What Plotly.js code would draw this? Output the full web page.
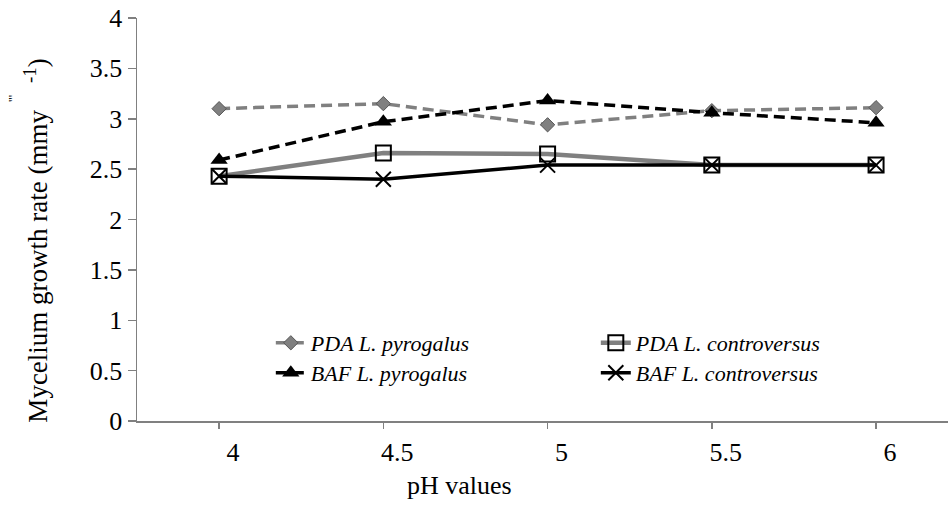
<!DOCTYPE html>
<html>
<head>
<meta charset="utf-8">
<script src="https://cdn.plot.ly/plotly-3.0.1.min.js"></script>
<style>html,body{margin:0;padding:0;background:#fff;}#chart{width:948px;height:518px;}</style>
</head>
<body>
<div id="chart"></div>
<script>
const phValues = [4, 4.5, 5, 5.5, 6];
const tickLabels = ['4', '4.5', '5', '5.5', '6'];
const seriesNames = ['PDA L. pyrogalus', 'PDA L. controversus', 'BAF L. pyrogalus', 'BAF L. controversus'];
const pdaPyrogalus = [3.10, 3.15, 2.94, 3.08, 3.11];
const pdaControversus = [2.43, 2.66, 2.65, 2.54, 2.54];
const bafPyrogalus = [2.59, 2.97, 3.18, 3.06, 2.96];
const bafControversus = [2.43, 2.40, 2.54, 2.54, 2.54];

const gray = '#808080';
const serif = 'Liberation Serif';

const traces = [
  {x: phValues, y: pdaPyrogalus, name: seriesNames[0], mode: 'lines+markers', legend: 'legend',
   line: {color: gray, width: 3.5, dash: '11px,6px'},
   marker: {symbol: 'diamond', size: 11, color: gray, line: {color: '#555', width: 1}}},
  {x: phValues, y: pdaControversus, name: seriesNames[1], mode: 'lines+markers', legend: 'legend',
   line: {color: gray, width: 4.5},
   marker: {symbol: 'square-open', size: 15, color: '#000', line: {color: '#000', width: 2}}},
  {x: phValues, y: bafPyrogalus, name: seriesNames[2], mode: 'lines+markers', legend: 'legend2',
   line: {color: '#000', width: 3.5, dash: '11px,6px'},
   marker: {symbol: 'triangle-up', size: 15, color: '#000'}},
  {x: phValues, y: bafControversus, name: seriesNames[3], mode: 'lines+markers', legend: 'legend2',
   line: {color: '#000', width: 3.5},
   marker: {symbol: 'x-thin-open', size: 15, color: '#000', line: {color: '#000', width: 2}}}
];

const legendBase = {
  orientation: 'h', xanchor: 'left', yanchor: 'middle',
  entrywidth: 280, entrywidthmode: 'pixels', traceorder: 'normal',
  bgcolor: 'rgba(0,0,0,0)', borderwidth: 0,
  font: {family: serif, size: 22, style: 'italic', color: '#000'}
};

const nb = '\u00a0';

const layout = {
  width: 948, height: 518,
  margin: {l: 137, r: 0, t: 18, b: 97},
  paper_bgcolor: '#fff', plot_bgcolor: '#fff',
  font: {family: serif, size: 24, color: '#000'},
  showlegend: true,
  legend: Object.assign({}, legendBase, {x: 0.165, y: (421 - 343) / 403}),
  legend2: Object.assign({}, legendBase, {x: 0.165, y: (421 - 373) / 403}),
  xaxis: {
    range: [3.75, 6.219], tickmode: 'array', tickvals: phValues, ticktext: tickLabels,
    showgrid: false, zeroline: false, showline: true, linecolor: gray, linewidth: 1.5,
    ticks: 'outside', ticklen: 6, tickcolor: gray, tickwidth: 1.5,
    ticklabelshift: 14, ticklabelstandoff: 1,
    tickfont: {family: serif, size: 26, color: '#000'}
  },
  yaxis: {
    range: [0, 4], dtick: 0.5, tick0: 0,
    showgrid: false, zeroline: false, showline: true, linecolor: gray, linewidth: 1.5,
    ticks: 'outside', ticklen: 8, tickcolor: gray, tickwidth: 1.5,
    ticklabelstandoff: 0,
    tickfont: {family: serif, size: 26, color: '#000'}
  },
  annotations: [
    {text: 'Mycelium growth rate (mmy' + nb + nb + nb + nb + '<sup>-1</sup>)', xref: 'paper', yref: 'paper',
     x: -0.125, y: (421 - 241) / 403, xanchor: 'center', yanchor: 'middle', textangle: -90,
     showarrow: false, font: {family: serif, size: 27, color: '#000'}},
    {text: "'''", xref: 'paper', yref: 'paper',
     x: (12 - 137) / 811, y: (421 - 99) / 403, xanchor: 'center', yanchor: 'middle', textangle: -90,
     showarrow: false, font: {family: serif, size: 13, color: '#000'}},
    {text: 'pH values', xref: 'paper', yref: 'paper',
     x: 0.398, y: -0.159, xanchor: 'center', yanchor: 'middle',
     showarrow: false, font: {family: serif, size: 26, color: '#000'}}
  ]
};

Plotly.newPlot('chart', traces, layout, {displayModeBar: false, staticPlot: true});
</script>
</body>
</html>
